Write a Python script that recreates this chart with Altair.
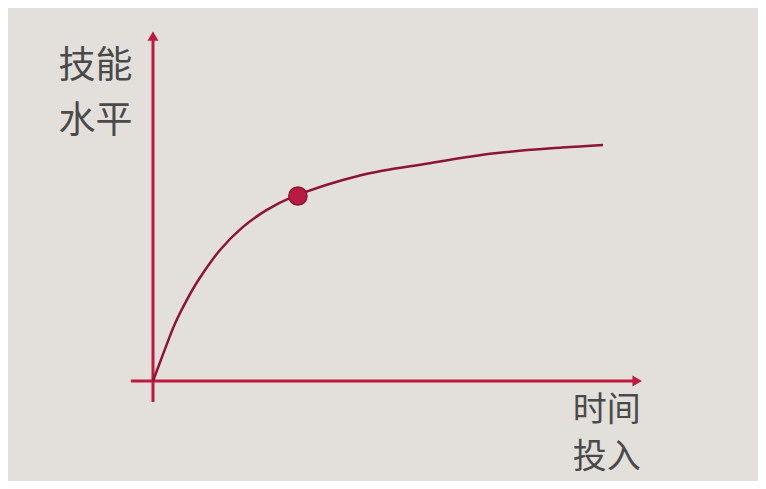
import altair as alt
import pandas as pd

# Curve: time invested vs. skill level (data units)
curve_x = [0.0, 0.23, 0.49, 0.75, 1.01, 1.49, 2.0, 2.53, 3.04, 4.64, 6.11, 7.6, 9.09, 10.0]
curve_y = [0.0, 11.7, 24.4, 34.3, 42.8, 55.5, 65.3, 72.5, 77.5, 87.3, 92.2, 96.5, 98.9, 100.0]

# Highlighted point
point_x = [3.22]
point_y = [78.4]

# Axes (arrows)
h_axis_x = [-0.49, 10.7]
v_axis_y = [-8.9, 146.0]
h_head = [10.76, 0.0]
v_head = [0.0, 146.2]

# Labels
top_text = ["技能", "水平"]
top_x = [-2.1, -2.1]
top_y = [133.0, 109.7]
bottom_text = ["时间", "投入"]
bottom_x = [9.33, 9.33]
bottom_y = [-12.7, -32.6]

XDOM = [-3.2222, 13.4444]
YDOM = [-42.37, 158.05]

xs = alt.Scale(domain=XDOM, nice=False, zero=False)
ys = alt.Scale(domain=YDOM, nice=False, zero=False)

AX = "#c0183f"
CURVE = "#8e1434"
TXT = "#4a4a4a"

curve_df = pd.DataFrame({"x": curve_x, "y": curve_y})
point_df = pd.DataFrame({"x": point_x, "y": point_y})
hax_df = pd.DataFrame({"x": [h_axis_x[0]], "x2": [h_axis_x[1]], "y": [0.0]})
vax_df = pd.DataFrame({"x": [0.0], "y": [v_axis_y[0]], "y2": [v_axis_y[1]]})
hhead_df = pd.DataFrame({"x": [h_head[0]], "y": [h_head[1]]})
vhead_df = pd.DataFrame({"x": [v_head[0]], "y": [v_head[1]]})
top_df = pd.DataFrame({"t": top_text, "x": top_x, "y": top_y})
bot_df = pd.DataFrame({"t": bottom_text, "x": bottom_x, "y": bottom_y})

hax = alt.Chart(hax_df).mark_rule(color=AX, strokeWidth=3).encode(
    x=alt.X("x:Q", scale=xs, axis=None), x2="x2:Q", y=alt.Y("y:Q", scale=ys, axis=None))
vax = alt.Chart(vax_df).mark_rule(color=AX, strokeWidth=3).encode(
    x=alt.X("x:Q", scale=xs, axis=None), y=alt.Y("y:Q", scale=ys, axis=None), y2="y2:Q")
hhead = alt.Chart(hhead_df).mark_point(shape="triangle-right", filled=True, color=AX, size=120, opacity=1).encode(
    x=alt.X("x:Q", scale=xs, axis=None), y=alt.Y("y:Q", scale=ys, axis=None))
vhead = alt.Chart(vhead_df).mark_point(shape="triangle-up", filled=True, color=AX, size=120, opacity=1).encode(
    x=alt.X("x:Q", scale=xs, axis=None), y=alt.Y("y:Q", scale=ys, axis=None))
line = alt.Chart(curve_df).mark_line(color=CURVE, strokeWidth=2.5, interpolate="catmull-rom").encode(
    x=alt.X("x:Q", scale=xs, axis=None), y=alt.Y("y:Q", scale=ys, axis=None))
pt = alt.Chart(point_df).mark_point(filled=True, fill="#bb1a40", stroke=CURVE, strokeWidth=1.5,
                                    size=330, opacity=1, fillOpacity=1, shape="circle").encode(
    x=alt.X("x:Q", scale=xs, axis=None), y=alt.Y("y:Q", scale=ys, axis=None))
top_labels = alt.Chart(top_df).mark_text(font="Noto Sans CJK SC", fontSize=37, color=TXT,
                                         align="left", baseline="middle").encode(
    x=alt.X("x:Q", scale=xs, axis=None), y=alt.Y("y:Q", scale=ys, axis=None), text="t:N")
bot_labels = alt.Chart(bot_df).mark_text(font="Noto Sans CJK SC", fontSize=34, color=TXT,
                                         align="left", baseline="middle").encode(
    x=alt.X("x:Q", scale=xs, axis=None), y=alt.Y("y:Q", scale=ys, axis=None), text="t:N")

chart = alt.layer(hax, vax, hhead, vhead, line, pt, top_labels, bot_labels).properties(
    width=750, height=473, autosize=alt.AutoSizeParams(type="none"), padding=0,
    background="#e3e0dc"
).configure_view(stroke=None)

chart.save("out.html", embed_options={"renderer": "svg", "actions": False})
